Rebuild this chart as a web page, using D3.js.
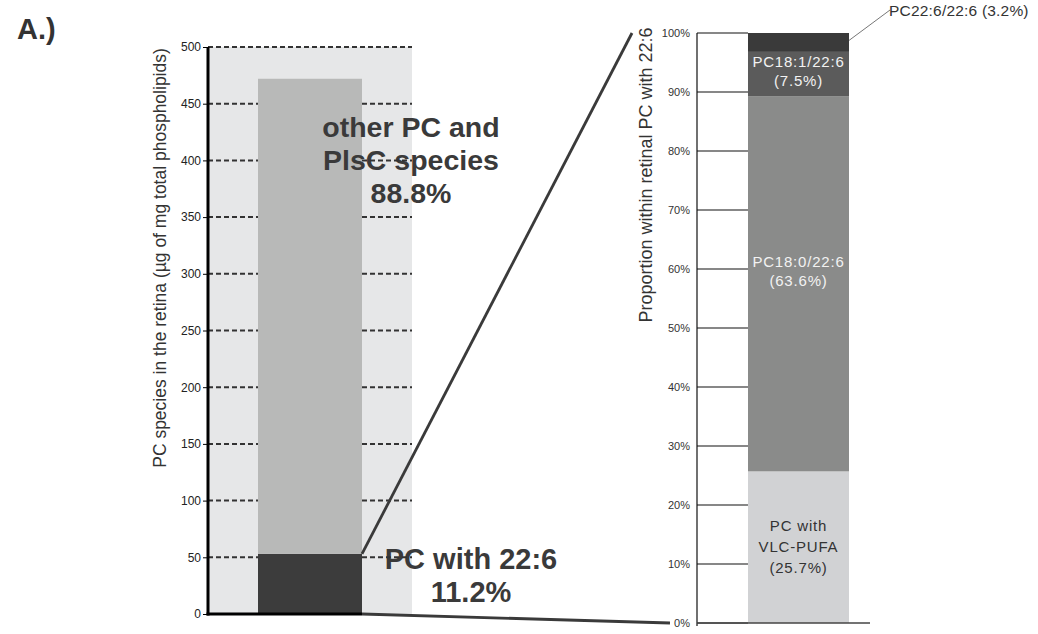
<!DOCTYPE html>
<html><head><meta charset="utf-8">
<script src="https://cdn.jsdelivr.net/npm/d3@7"></script>
<style>body{margin:0;background:#fff}svg{display:block;font-family:"Liberation Sans",Arial,sans-serif}</style>
</head><body>
<svg id="c" width="1038" height="634"></svg>
<script>
// ---- data ----
const leftCategories = ["PC"];
const leftSeries = ["PC with 22:6", "other PC and PlsC species"];
const leftValues = [53, 419];
const leftShares = ["11.2%", "88.8%"];
const leftTicks = [0, 50, 100, 150, 200, 250, 300, 350, 400, 450, 500];

const rightCategories = ["PC with 22:6"];
const rightSeries = ["PC with VLC-PUFA", "PC18:0/22:6", "PC18:1/22:6", "PC22:6/22:6"];
const rightValues = [25.7, 63.6, 7.5, 3.2];
const rightTicks = [0, 10, 20, 30, 40, 50, 60, 70, 80, 90, 100];

const svg = d3.select("#c");
const txt = "#3a3a3a";

// ---- left chart ----
const yL = d3.scaleLinear().domain([0, 500]).range([614, 47]);
const xL = d3.scaleBand().domain(leftCategories).range([208, 412]).paddingInner(0.3247).paddingOuter(0.3247);
const bx0 = xL("PC"), bx1 = xL("PC") + xL.bandwidth();
const total = d3.sum(leftValues);

svg.append("rect").attr("x", 208).attr("y", yL(500)).attr("width", 412 - 208).attr("height", yL(0) - yL(500)).attr("fill", "#e6e7e8");

const stackL = [];
let acc = 0;
leftValues.forEach((v, i) => { stackL.push({ s: leftSeries[i], y0: acc, y1: acc + v }); acc += v; });
const leftColors = ["#3c3c3c", "#b8b9b8"];
svg.selectAll(".lb").data(stackL).join("rect")
  .attr("x", bx0).attr("width", xL.bandwidth())
  .attr("y", d => yL(d.y1)).attr("height", d => yL(d.y0) - yL(d.y1))
  .attr("fill", (d, i) => leftColors[i]);

// labels
const gOther = svg.append("text").attr("text-anchor", "middle").attr("font-weight", "bold").attr("font-size", 28.5).attr("fill", txt);
["other PC and", "PlsC species", leftShares[1]].forEach((t, i) => gOther.append("tspan").attr("x", 411).attr("y", 137 + i * 33).text(t));
const gPC = svg.append("text").attr("text-anchor", "middle").attr("font-weight", "bold").attr("font-size", 29).attr("fill", txt);
[leftSeries[0], leftShares[0]].forEach((t, i) => gPC.append("tspan").attr("x", 471).attr("y", 569 + i * 33).text(t));

// dashed grid (not over the bar)
leftTicks.filter(t => t > 0).forEach(t => {
  const segs = t > total ? [[208, 412]] : [[208, bx0], [bx1, 412]];
  segs.forEach(s => svg.append("line").attr("x1", s[0]).attr("x2", s[1]).attr("y1", yL(t)).attr("y2", yL(t))
    .attr("stroke", "#333").attr("stroke-width", 2).attr("stroke-dasharray", "5,3"));
});

// axis
const axL = svg.append("g").attr("transform", "translate(208,0)")
  .call(d3.axisLeft(yL).tickValues(leftTicks).tickSize(5).tickPadding(2));
axL.select(".domain").remove();
axL.selectAll("text").attr("font-size", 12).attr("fill", "#222").attr("font-family", "'Liberation Sans Narrow','Liberation Sans',Arial");
axL.selectAll("line").attr("stroke", "#000");
svg.append("line").attr("x1", 208).attr("x2", 208).attr("y1", yL(500)).attr("y2", yL(0) + 1.5).attr("stroke", "#000").attr("stroke-width", 3);
svg.append("line").attr("x1", 206.5).attr("x2", bx1).attr("y1", yL(0)).attr("y2", yL(0)).attr("stroke", "#000").attr("stroke-width", 3);

svg.append("text").attr("transform", `translate(166,258) rotate(-90)`).attr("text-anchor", "middle")
  .attr("font-size", 17.5).attr("fill", "#333").text("PC species in the retina (µg of mg total phospholipids)");

svg.append("text").attr("x", 17).attr("y", 39).attr("font-size", 29).attr("font-weight", "bold").attr("fill", "#333").text("A.)");

// ---- right chart ----
const yR = d3.scaleLinear().domain([0, 100]).range([623, 33]);
const xR = d3.scaleBand().domain(rightCategories).range([697, 900]).paddingInner(0.3355).paddingOuter(0.3355);
const rx0 = xR(rightCategories[0]), rx1 = rx0 + xR.bandwidth();

// zoom lines
svg.append("line").attr("x1", bx1).attr("y1", yL(leftValues[0])).attr("x2", 632).attr("y2", yR(100))
  .attr("stroke", "#3a3a3a").attr("stroke-width", 2.8);
svg.append("line").attr("x1", bx1).attr("y1", yL(0)).attr("x2", 670).attr("y2", yR(0))
  .attr("stroke", "#3a3a3a").attr("stroke-width", 2.8);

const stackR = [];
acc = 0;
rightValues.forEach((v, i) => { stackR.push({ s: rightSeries[i], v, y0: acc, y1: acc + v }); acc += v; });
const rightColors = ["#d1d2d4", "#8a8b8a", "#5b5b5b", "#3a3a3a"];
svg.selectAll(".rb").data(stackR).join("rect")
  .attr("x", rx0).attr("width", xR.bandwidth())
  .attr("y", d => yR(d.y1)).attr("height", d => yR(d.y0) - yR(d.y1))
  .attr("fill", (d, i) => rightColors[i]);

// grid lines (axis to bar)
rightTicks.forEach(t => svg.append("line").attr("x1", 697).attr("x2", rx0).attr("y1", yR(t)).attr("y2", yR(t)).attr("stroke", "#111").attr("stroke-width", 1.2));
const axR = svg.append("g").attr("transform", "translate(697,0)")
  .call(d3.axisLeft(yR).tickValues(rightTicks).tickSize(0).tickPadding(7).tickFormat(d => d + "%"));
axR.select(".domain").remove();
axR.selectAll("text").attr("font-size", 11).attr("fill", "#333");
svg.append("line").attr("x1", 697).attr("x2", 697).attr("y1", yR(100)).attr("y2", yR(0) + 3).attr("stroke", "#111").attr("stroke-width", 1.2);
svg.append("line").attr("x1", 697).attr("x2", 870).attr("y1", yR(0)).attr("y2", yR(0)).attr("stroke", "#444").attr("stroke-width", 1.5);

svg.append("text").attr("transform", `translate(652,175) rotate(-90)`).attr("text-anchor", "middle")
  .attr("font-size", 18).attr("fill", "#333").text("Proportion within retinal PC with 22:6");

// segment labels
const cx = (rx0 + rx1) / 2;
const segLabels = [
  { lines: ["PC with", "VLC-PUFA", "(" + rightValues[0] + "%)"], offs: [-16, 5, 26], fill: "#333" },
  { lines: [rightSeries[1], "(" + rightValues[1] + "%)"], offs: [-17, 2], fill: "#f2f2f2" },
  { lines: [rightSeries[2], "(" + rightValues[2] + "%)"], offs: [-7, 12], fill: "#f2f2f2" }
];
segLabels.forEach((L, i) => {
  const mid = yR((stackR[i].y0 + stackR[i].y1) / 2);
  const t = svg.append("text").attr("text-anchor", "middle").attr("font-size", 15).attr("letter-spacing", 0.8).attr("fill", L.fill);
  L.lines.forEach((s, j) => t.append("tspan").attr("x", cx).attr("y", mid + L.offs[j]).text(s));
});
// top label with leader
const topMid = yR((stackR[3].y0 + stackR[3].y1) / 2);
svg.append("line").attr("x1", rx1).attr("y1", topMid - 2).attr("x2", 890).attr("y2", 10).attr("stroke", "#777").attr("stroke-width", 1);
svg.append("text").attr("x", 889).attr("y", 16).attr("font-size", 15.5).attr("letter-spacing", 0.2).attr("fill", "#333")
  .text(rightSeries[3] + " (" + rightValues[3] + "%)");
</script>
</body></html>
